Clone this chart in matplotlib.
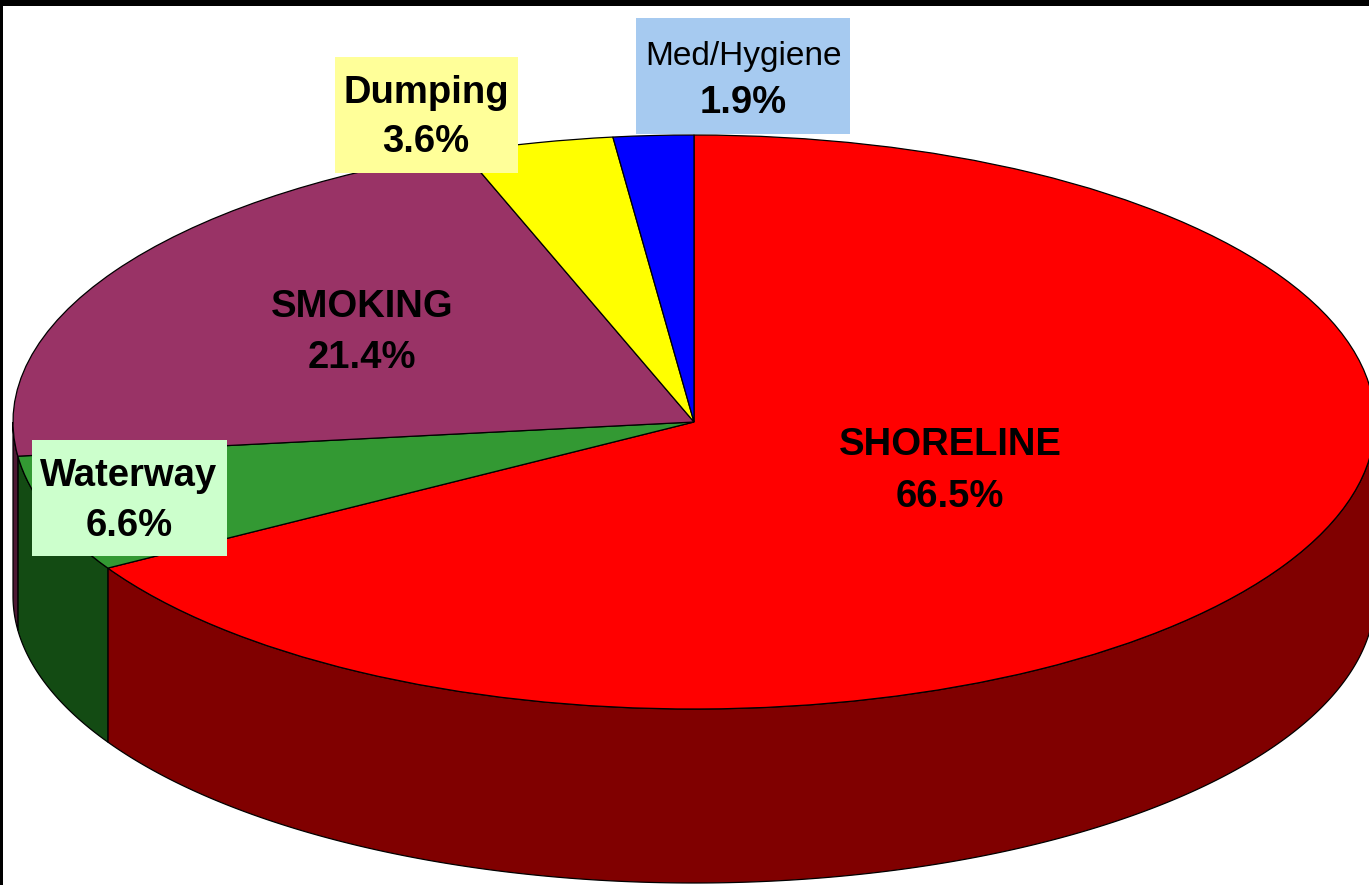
#!/usr/bin/env python3
"""
3-D style pie chart of litter sources (shoreline, smoking, ...).
Outputs: out.png
"""

import numpy as np
import matplotlib.pyplot as plt
from matplotlib.patches import Rectangle

# Data
categories = ["SHORELINE", "Waterway", "SMOKING", "Dumping", "Med/Hygiene"]
shares = [66.5, 6.6, 21.4, 3.6, 1.9]

# Colors (top face / side wall)
top_colors = ["#FF0000", "#339933", "#993366", "#FFFF00", "#0000FF"]
side_colors = ["#800000", "#134B13", "#4D1933", "#808000", "#000080"]

# Canvas + ellipse geometry (pixels)
W, H = 1369, 885
CX, CY, RX, RY, DEPTH = 694, 422, 681, 287, 174

# Label layout: text centre x, baselines of the two lines, optional box
label_layout = {
    "SHORELINE": dict(x=950, y1=455, y2=507, box=None),
    "Waterway": dict(x=129, y1=486, y2=536, box=(32, 440, 227, 556, "#CCFFCC")),
    "SMOKING": dict(x=362, y1=317, y2=368, box=None),
    "Dumping": dict(x=426, y1=103, y2=152, box=(335, 57, 518, 173, "#FFFF99")),
    "Med/Hygiene": dict(x=743, y1=65, y2=113, box=(636, 18, 850, 134, "#A6CAF0")),
}


def main():
    fig = plt.figure(figsize=(W / 100, H / 100), dpi=100, facecolor="white")

    # Pie axes: unit circle stretched into the ellipse
    ax = fig.add_axes([0, 0, 1, 1])
    wedges, _ = ax.pie(
        shares,
        colors=top_colors,
        startangle=90,
        counterclock=False,
        wedgeprops=dict(edgecolor="black", linewidth=0.9, zorder=2),
    )
    ax.set_aspect("auto")
    ax.set_xlim(-CX / RX, (W - CX) / RX)
    ax.set_ylim((CY - H) / RY, CY / RY)
    ax.axis("off")

    # Side walls for the front half of the pie
    d = DEPTH / RY
    for w, c in zip(wedges, side_colors):
        lo = max(w.theta1, -180)
        hi = min(w.theta2, 0)
        if lo >= hi:
            continue
        t = np.radians(np.linspace(lo, hi, 300))
        xs = np.cos(t)
        ys = np.sin(t)
        ax.fill(
            np.r_[xs, xs[::-1]],
            np.r_[ys, ys[::-1] - d],
            facecolor=c,
            edgecolor="black",
            linewidth=0.9,
            zorder=1,
        )

    # Overlay axes in pixel coords for labels and frame
    ax2 = fig.add_axes([0, 0, 1, 1])
    ax2.set_xlim(0, W)
    ax2.set_ylim(H, 0)
    ax2.axis("off")
    ax2.patch.set_alpha(0)

    for name, val in zip(categories, shares):
        lay = label_layout[name]
        if lay["box"] is not None:
            x0, y0, x1, y1, bc = lay["box"]
            ax2.add_patch(Rectangle((x0, y0), x1 - x0, y1 - y0,
                                    facecolor=bc, edgecolor="none"))
        weight = "normal" if name == "Med/Hygiene" else "bold"
        size = 24 if name == "Med/Hygiene" else 27.5
        ax2.text(lay["x"], lay["y1"], name, ha="center", va="baseline",
                 fontsize=size, fontweight=weight, family="Liberation Sans",
                 color="black")
        ax2.text(lay["x"], lay["y2"], f"{val:.1f}%", ha="center", va="baseline",
                 fontsize=27.5, fontweight="bold", family="Liberation Sans",
                 color="black")

    # Black frame strips (top and left)
    ax2.add_patch(Rectangle((0, 0), W, 6, facecolor="black", edgecolor="none"))
    ax2.add_patch(Rectangle((0, 0), 3, H, facecolor="black", edgecolor="none"))

    fig.savefig("out.png", dpi=100, facecolor="white")
    plt.close(fig)


if __name__ == "__main__":
    main()
